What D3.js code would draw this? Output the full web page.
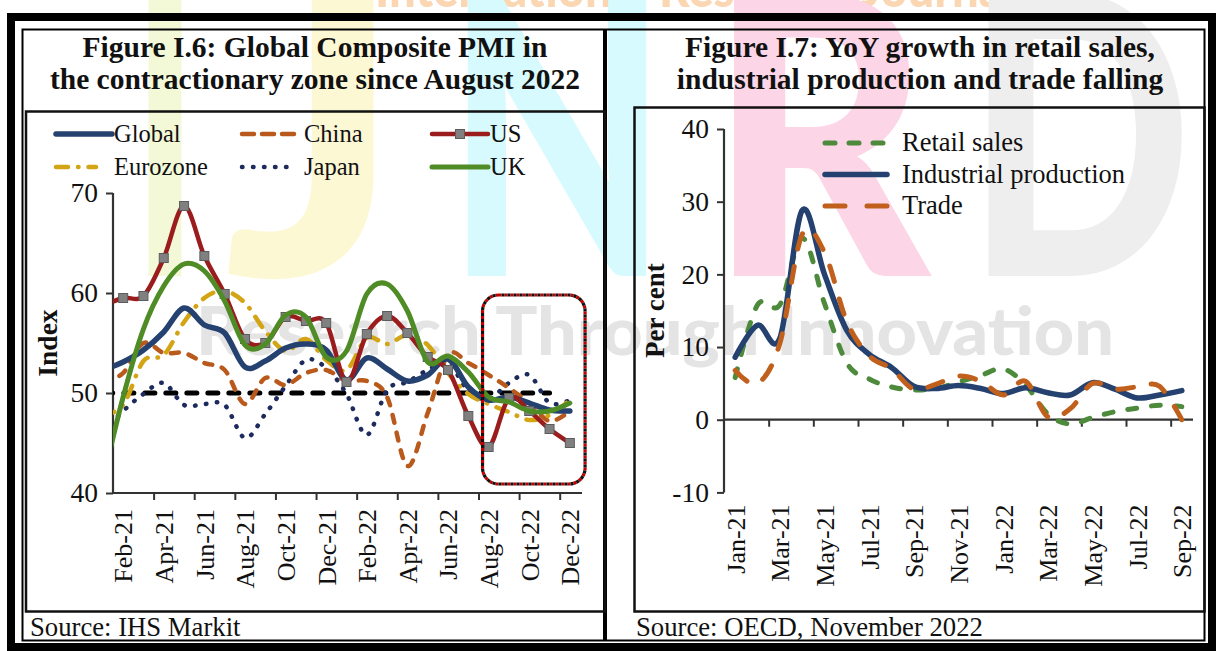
<!DOCTYPE html>
<html><head><meta charset="utf-8">
<script src="https://cdn.jsdelivr.net/npm/d3@7"></script>
<style>
body{margin:0;background:#fff}
svg{display:block}
text{fill:#111}
</style>
</head><body>
<svg id="c" width="1216" height="651"></svg>
<script>
// ---------------- DATA ----------------
const pmiMonths = ["Jan-21","Feb-21","Mar-21","Apr-21","May-21","Jun-21","Jul-21","Aug-21","Sep-21","Oct-21","Nov-21","Dec-21",
                   "Jan-22","Feb-22","Mar-22","Apr-22","May-22","Jun-22","Jul-22","Aug-22","Sep-22","Oct-22","Nov-22","Dec-22"];
const pmiTickLabels = ["Feb-21","Apr-21","Jun-21","Aug-21","Oct-21","Dec-21","Feb-22","Apr-22","Jun-22","Aug-22","Oct-22","Dec-22"];
const pmiGlobal   = [52.3,53.1,54.3,56.1,58.5,56.8,56.0,52.6,53.2,54.5,54.9,54.3,51.3,53.5,52.4,51.2,51.8,53.4,50.6,49.3,49.6,49.0,48.3,48.2];
const pmiChina    = [51.0,52.0,55.0,54.0,54.0,53.0,52.3,48.9,51.5,50.8,52.0,52.3,51.2,51.2,49.6,42.7,48.0,53.8,53.0,51.8,50.5,49.0,47.2,48.2];
const pmiUS       = [58.7,59.5,59.7,63.5,68.7,63.7,59.9,55.4,55.0,57.6,57.2,57.0,51.1,55.9,57.7,56.0,53.6,52.3,47.7,44.6,49.5,48.2,46.4,45.0];
const pmiEurozone = [47.8,48.8,53.2,53.8,57.1,59.5,60.2,59.0,56.2,54.2,55.4,53.3,52.3,55.5,54.9,55.8,54.8,52.0,49.9,48.9,48.1,47.3,47.8,49.3];
const pmiJapan    = [46.1,48.2,49.9,51.0,48.8,48.9,48.8,45.5,47.9,50.7,53.3,52.5,49.9,45.8,50.3,51.1,52.3,53.0,50.2,49.4,51.0,51.8,49.0,49.3];
const pmiUK       = [41.2,49.6,56.4,60.7,62.9,62.2,59.2,54.8,54.9,57.8,57.6,53.6,54.2,59.9,60.9,58.2,53.1,53.7,52.1,49.6,49.1,48.2,48.2,49.0];
const pmiThreshold = [50,50,50,50,50,50,50,50,50,50,50,50,50,50,50,50,50,50,50,50,50,50,50]; // Jan-21 .. Nov-22
const pmiYTicks = [40,50,60,70];

const oecdMonths = ["Jan-21","Feb-21","Mar-21","Apr-21","May-21","Jun-21","Jul-21","Aug-21","Sep-21","Oct-21","Nov-21","Dec-21",
                    "Jan-22","Feb-22","Mar-22","Apr-22","May-22","Jun-22","Jul-22","Aug-22","Sep-22"];
const oecdTickLabels = ["Jan-21","Mar-21","May-21","Jul-21","Sep-21","Nov-21","Jan-22","Mar-22","May-22","Jul-22","Sep-22"];
const retailSales = [5.8,15.8,15.8,25.0,16.0,7.8,5.6,4.5,4.1,4.3,5.2,6.1,7.0,4.8,0.8,-0.6,0.3,1.1,1.6,2.0,1.8];
const industrialProduction = [8.6,13.0,11.2,28.8,20.0,12.3,9.0,7.2,4.6,4.3,4.7,4.3,3.6,4.4,3.7,3.4,5.1,4.2,3.0,3.4,4.0];
const trade = [6.8,5.0,10.5,25.5,23.0,13.5,8.8,7.0,4.2,4.9,6.0,5.3,3.4,5.3,0.4,1.5,5.0,4.2,4.5,4.6,0.0];
const oecdYTicks = [-10,0,10,20,30,40];

// ---------------- SETUP ----------------
const svg = d3.select("#c");
const SERIF = '"Liberation Serif","Times New Roman",serif';
const SANS = 'Lato,"Open Sans",sans-serif';

// watermark (background)
const wm = svg.append("g").attr("pointer-events","none");
wm.append("text").attr("x",375).attr("y",7).style("font-family",SANS).style("font-weight",900)
  .style("font-size","52px").attr("textLength",640).attr("lengthAdjust","spacingAndGlyphs")
  .style("fill","#fbd6b3").text("International Research Journal");
const wmLetters = [
  {ch:"I", x:132, w:66,  c:"#f3f9d6"},
  {ch:"J", x:224, w:178, c:"#fdf8d4"},
  {ch:"N", x:446, w:222, c:"#d6fafd"},
  {ch:"R", x:708, w:222, c:"#fcd5e7"},
  {ch:"D", x:966, w:226, c:"#eeeeee"}
];
wmLetters.forEach(l=>{
  wm.append("text").attr("x",l.x).attr("y",276).style("font-family",SANS).style("font-weight",900)
    .style("font-size","390px").attr("textLength",l.w).attr("lengthAdjust","spacingAndGlyphs")
    .style("fill",l.c).text(l.ch);
});
wm.append("text").attr("x",196).attr("y",355).style("font-family",SANS).style("font-weight",900)
  .style("font-size","66px").attr("textLength",918).attr("lengthAdjust","spacingAndGlyphs")
  .style("fill","#e4e4e4").text("Research Through Innovation");

// frame
const frame = svg.append("g");
frame.append("rect").attr("x",11).attr("y",17).attr("width",1201).attr("height",630)
  .attr("fill","none").attr("stroke","#000").attr("stroke-width",8);
frame.append("rect").attr("x",22.5).attr("y",29.5).attr("width",1182).attr("height",611)
  .attr("fill","none").attr("stroke","#000").attr("stroke-width",2);
frame.append("line").attr("x1",605).attr("x2",605).attr("y1",29).attr("y2",641)
  .attr("stroke","#000").attr("stroke-width",4);
// chart boxes
frame.append("rect").attr("x",26).attr("y",111.5).attr("width",579).attr("height",500)
  .attr("fill","none").attr("stroke","#111").attr("stroke-width",2.5);
frame.append("rect").attr("x",634.5).attr("y",107.5).attr("width",570).attr("height",504)
  .attr("fill","none").attr("stroke","#111").attr("stroke-width",2.5);

function T(sel){ return sel.style("font-family",SERIF); }

// titles
function title(lines, cx){
  lines.forEach((t,i)=>{
    T(svg.append("text")).attr("x",cx).attr("y",57+i*32).attr("text-anchor","middle")
      .style("font-weight","bold").style("font-size","29.5px").text(t);
  });
}
title(["Figure I.6: Global Composite PMI in","the contractionary zone since August 2022"],315);
title(["Figure I.7: YoY growth in retail sales,","industrial production and trade falling"],920);

// sources
T(svg.append("text")).attr("x",30).attr("y",636).style("font-size","26.7px").text("Source: IHS Markit");
T(svg.append("text")).attr("x",636).attr("y",636).style("font-size","26.7px").text("Source: OECD, November 2022");

// ---------------- LEFT CHART ----------------
const xL = d3.scaleLinear().domain([0.5, 23.5]).range([113, 580]);
const yL = d3.scaleLinear().domain([40, 70]).range([493, 193]);
const curve = d3.curveCardinal.tension(0);
const fmt = d => String(d);

svg.append("clipPath").attr("id","clipL").append("rect")
  .attr("x",113).attr("y",120).attr("width",480).attr("height",390);

const gL = svg.append("g");
const yAxL = gL.append("g").attr("transform","translate(113,0)")
  .call(d3.axisLeft(yL).tickValues(pmiYTicks).tickSize(7).tickPadding(8).tickFormat(fmt));
const xTickVals = d3.range(2.5, 23, 2);
const xAxL = gL.append("g").attr("transform","translate(0,493)")
  .call(d3.axisBottom(xL).tickValues(xTickVals).tickSize(7).tickFormat(""));
xAxL.select(".domain").attr("d","M113,0H582");
const labIdxL = pmiTickLabels.map(l=>pmiMonths.indexOf(l));
const xLabL = gL.append("g").attr("transform","translate(0,493)")
  .call(d3.axisBottom(xL).tickValues(labIdxL).tickSize(0).tickFormat(i=>pmiMonths[i]));
xLabL.select(".domain").remove();
xLabL.selectAll("text").attr("transform","rotate(-90)").attr("text-anchor","end")
  .attr("x",-16).attr("y",0).attr("dy","0.34em");
[yAxL,xAxL,xLabL].forEach(a=>{
  a.selectAll("text").style("font-family",SERIF).style("font-size","26px").style("fill","#111");
  a.selectAll("line").attr("stroke","#333").attr("stroke-width",2);
  a.select(".domain").attr("stroke","#333").attr("stroke-width",2.2);
});
yAxL.selectAll("text").style("font-size","27.5px");
yAxL.select(".domain").attr("d","M0,"+yL(70)+"V"+yL(40));

T(gL.append("text")).attr("transform","translate(47,"+yL(55)+") rotate(-90)").attr("text-anchor","middle")
  .attr("dy","0.35em").style("font-weight","bold").style("font-size","27.5px").text("Index");

const lineL = d3.line().x((d,i)=>xL(i)).y(d=>yL(d)).curve(curve);
const plotL = gL.append("g").attr("clip-path","url(#clipL)");

const sL = [
  {name:"Japan", data:pmiJapan, color:"#1c2a5e", w:4.5, dash:"0.5,10.5"},
  {name:"China", data:pmiChina, color:"#b95a1c", w:4.5, dash:"8,10"},
  {name:"Eurozone", data:pmiEurozone, color:"#d3a414", w:4.5, dash:"12,10,0.5,10"},
  {name:"threshold", data:pmiThreshold, color:"#000", w:5, dash:"10,11"},
  {name:"Global", data:pmiGlobal, color:"#24416f", w:5.5, dash:null},
  {name:"US", data:pmiUS, color:"#9a1c1c", w:4.5, dash:null},
  {name:"UK", data:pmiUK, color:"#4f8c26", w:5, dash:null}
];
const order = ["threshold","Japan","China","Eurozone","Global","US","UK"];
order.forEach(n=>{
  const s = sL.find(d=>d.name===n);
  plotL.append("path").datum(s.data).attr("d",lineL).attr("fill","none")
    .attr("stroke",s.color).attr("stroke-width",s.w).attr("stroke-linecap","round")
    .attr("stroke-linejoin","round").attr("stroke-dasharray",s.dash);
  if(n==="US"){
    plotL.selectAll("rect.usm").data(pmiUS).enter().append("rect").attr("class","usm")
      .attr("x",(d,i)=>xL(i)-4.5).attr("y",d=>yL(d)-4.5).attr("width",9).attr("height",9)
      .attr("fill","#808080").attr("stroke","#5c5c5c").attr("stroke-width",1);
  }
});

// highlight box (contractionary period)
const boxL = xL(18.7), boxR = xL(23.75), boxT = yL(59.8), boxB = yL(40.9);
gL.append("rect").attr("x",boxL).attr("y",boxT).attr("width",boxR-boxL).attr("height",boxB-boxT)
  .attr("rx",16).attr("fill","none").attr("stroke","#c00000").attr("stroke-width",3.2).attr("stroke-dasharray","3,3");
gL.append("rect").attr("x",boxL).attr("y",boxT).attr("width",boxR-boxL).attr("height",boxB-boxT)
  .attr("rx",16).attr("fill","none").attr("stroke","#111").attr("stroke-width",3.2).attr("stroke-dasharray","3,3")
  .attr("stroke-dashoffset",3);

// legend left
const legL = [
  {name:"Global", x:56, y:134, tx:114},
  {name:"China", x:242, y:134, tx:304},
  {name:"US", x:432, y:134, tx:490},
  {name:"Eurozone", x:56, y:167, tx:114},
  {name:"Japan", x:242, y:167, tx:304},
  {name:"UK", x:432, y:167, tx:490}
];
legL.forEach(l=>{
  const s = sL.find(d=>d.name===l.name);
  const len = l.name==="Eurozone" ? 40 : (l.name==="Japan" ? 48 : 56);
  gL.append("line").attr("x1",l.x).attr("x2",l.x+len).attr("y1",l.y).attr("y2",l.y)
    .attr("stroke",s.color).attr("stroke-width",s.w).attr("stroke-linecap","round")
    .attr("stroke-dasharray", l.name==="China" ? "12,8" : s.dash);
  if(l.name==="US"){
    gL.append("rect").attr("x",l.x+28-4.5).attr("y",l.y-4.5).attr("width",9).attr("height",9)
      .attr("fill","#808080").attr("stroke","#5c5c5c");
  }
  T(gL.append("text")).attr("x",l.tx).attr("y",l.y+8).style("font-size","24.5px").text(l.name);
});

// ---------------- RIGHT CHART ----------------
const xR = d3.scaleLinear().domain([-0.5, 20.5]).range([724, 1193]);
const yR = d3.scaleLinear().domain([-10, 40]).range([492.4, 129]);
const gR = svg.append("g");
const yAxR = gR.append("g").attr("transform","translate(724,0)")
  .call(d3.axisLeft(yR).tickValues(oecdYTicks).tickSize(7).tickPadding(8).tickFormat(fmt));
yAxR.select(".domain").attr("d","M0,"+yR(40)+"V"+yR(-10));
const xAxR = gR.append("g").attr("transform","translate(0,"+yR(0)+")")
  .call(d3.axisBottom(xR).tickValues(d3.range(1.5, 20, 2)).tickSize(7).tickFormat(""));
xAxR.select(".domain").attr("d","M724,0H1193");
const labIdxR = oecdTickLabels.map(l=>oecdMonths.indexOf(l));
const xLabR = gR.append("g").attr("transform","translate(0,"+yR(-10)+")")
  .call(d3.axisBottom(xR).tickValues(labIdxR).tickSize(0).tickFormat(i=>oecdMonths[i]));
xLabR.select(".domain").remove();
xLabR.selectAll("text").attr("transform","rotate(-90)").attr("text-anchor","end")
  .attr("x",-12).attr("y",0).attr("dy","0.34em");
[yAxR,xAxR,xLabR].forEach(a=>{
  a.selectAll("text").style("font-family",SERIF).style("font-size","26px").style("fill","#111");
  a.selectAll("line").attr("stroke","#333").attr("stroke-width",2);
  a.select(".domain").attr("stroke","#333").attr("stroke-width",2.2);
});
yAxR.selectAll("text").style("font-size","27.5px");
T(gR.append("text")).attr("transform","translate(655,"+yR(15)+") rotate(-90)").attr("text-anchor","middle")
  .attr("dy","0.35em").style("font-weight","bold").style("font-size","27px").text("Per cent");

const lineR = d3.line().x((d,i)=>xR(i)).y(d=>yR(d)).curve(curve);
const sR = [
  {name:"Retail sales", data:retailSales, color:"#4d8a3c", w:5, dash:"9,15"},
  {name:"Industrial production", data:industrialProduction, color:"#24416f", w:5.5, dash:null},
  {name:"Trade", data:trade, color:"#c0601c", w:5, dash:"16,18"}
];
sR.forEach(s=>{
  gR.append("path").datum(s.data).attr("d",lineR).attr("fill","none")
    .attr("stroke",s.color).attr("stroke-width",s.w).attr("stroke-linecap","round")
    .attr("stroke-linejoin","round").attr("stroke-dasharray",s.dash);
});
sR.forEach((s,i)=>{
  const y = 143 + i*31.5;
  gR.append("line").attr("x1",825).attr("x2",887).attr("y1",y).attr("y2",y)
    .attr("stroke",s.color).attr("stroke-width",s.w).attr("stroke-linecap","round")
    .attr("stroke-dasharray", s.name==="Trade" ? "20,22" : (s.dash?"10,14":null));
  T(gR.append("text")).attr("x",902).attr("y",y+8).style("font-size","26.5px").text(s.name);
});
</script>
</body></html>
